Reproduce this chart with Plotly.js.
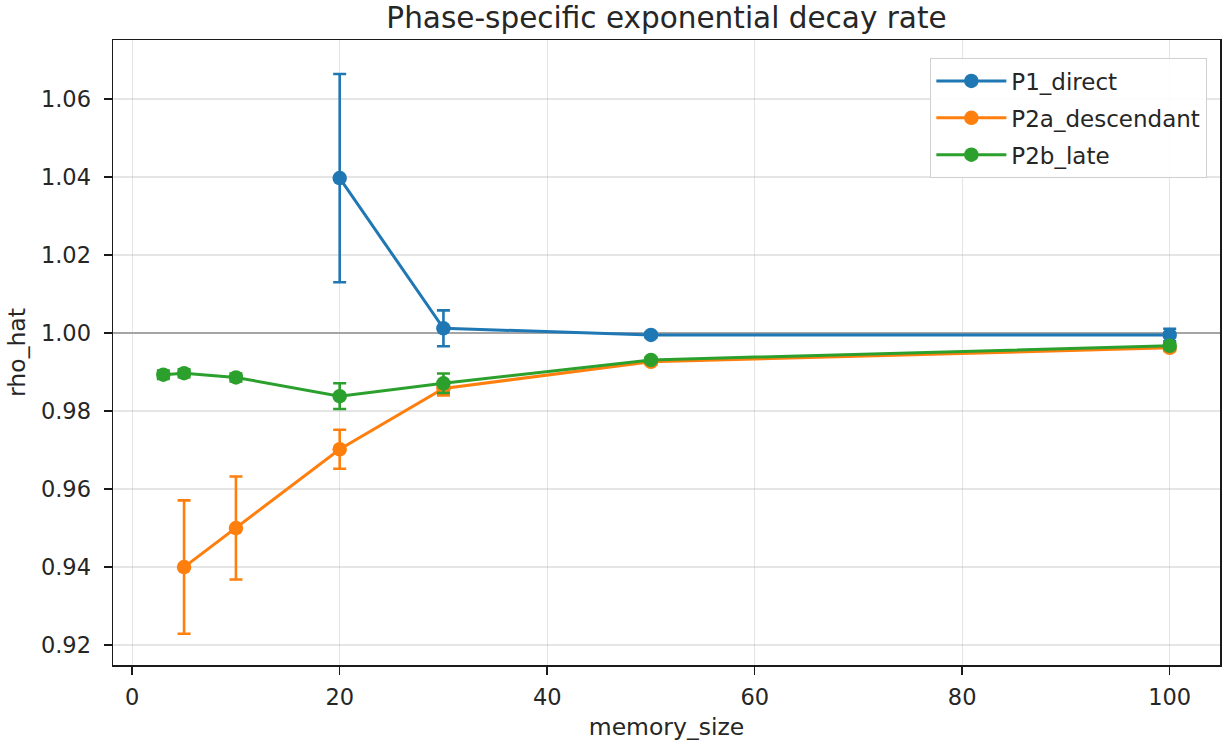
<!DOCTYPE html>
<html>
<head>
<meta charset="utf-8">
<script src="https://cdn.plot.ly/plotly-3.0.1.min.js"></script>
<style>html,body{margin:0;padding:0;background:#fff;}#chart{width:1225px;height:746px;}</style>
</head>
<body>
<div id="chart"></div>
<script>
// Data
const p1_x = [20, 30, 50, 100];
const p1_y = [1.0397, 1.0012, 0.9995, 0.9995];
const p1_err = [0.0267, 0.0046, 0.0006, 0.0016];

const p2a_x = [5, 10, 20, 30, 50, 100];
const p2a_y = [0.9400, 0.9500, 0.9702, 0.9858, 0.9926, 0.9962];
const p2a_err = [0.0171, 0.0132, 0.0050, 0.0018, 0.0006, 0.0008];

const p2b_x = [3, 5, 10, 20, 30, 50, 100];
const p2b_y = [0.9893, 0.9897, 0.9886, 0.9838, 0.9871, 0.9931, 0.9967];
const p2b_err = [0.0011, 0.0010, 0.0010, 0.0033, 0.0025, 0.0006, 0.0008];

const names = ["P1_direct", "P2a_descendant", "P2b_late"];
const colors = ["#1f77b4", "#ff7f0e", "#2ca02c"];

function mk(x, y, e, i) {
  return {
    x: x, y: y, name: names[i], type: "scatter", mode: "lines+markers",
    legendgroup: "g" + i,
    line: {color: colors[i], width: 3},
    marker: {color: colors[i], size: 14.5},
    error_y: {type: "data", array: e, visible: true, color: colors[i], thickness: 2.6, width: 6.5}
  };
}

const data = [
  mk(p1_x, p1_y, p1_err, 0),
  mk(p2a_x, p2a_y, p2a_err, 1),
  mk(p2b_x, p2b_y, p2b_err, 2)
];

const font = "DejaVu Sans, sans-serif";
const txt = "#262626";
const layout = {
  width: 1225, height: 746,
  margin: {l: 113, r: 5, t: 40, b: 81},
  paper_bgcolor: "#fff", plot_bgcolor: "#fff",
  font: {family: font, size: 22.5, color: txt},
  title: {text: "Phase-specific exponential decay rate", x: 0.5441, xanchor: "center", y: 0.976, yanchor: "middle", font: {family: font, size: 29.5, color: txt}},
  xaxis: {
    range: [-1.85, 104.85], tickvals: [0, 20, 40, 60, 80, 100],
    showgrid: true, gridcolor: "rgba(176,176,176,0.33)", gridwidth: 1.2,
    zeroline: false, showline: true, linecolor: "#1a1a1a", linewidth: 1.5, mirror: true,
    ticks: "outside", ticklen: 8, tickwidth: 1.5, tickcolor: "#1a1a1a",
    ticklabelstandoff: 3,
    tickfont: {family: font, size: 22.5, color: txt},
    title: {text: "memory_size", font: {family: font, size: 23.5, color: txt}, standoff: 10}
  },
  yaxis: {
    range: [0.9149, 1.0751], tickvals: [0.92, 0.94, 0.96, 0.98, 1.00, 1.02, 1.04, 1.06],
    tickformat: ".2f",
    showgrid: true, gridcolor: "rgba(176,176,176,0.33)", gridwidth: 1.2,
    zeroline: false, showline: true, linecolor: "#1a1a1a", linewidth: 1.5, mirror: true,
    ticks: "outside", ticklen: 8, tickwidth: 1.5, tickcolor: "#1a1a1a",
    ticklabelstandoff: 8,
    tickfont: {family: font, size: 22.5, color: txt},
    title: {text: "rho_hat", font: {family: font, size: 23.5, color: txt}, standoff: 8}
  },
  shapes: [{type: "line", xref: "paper", x0: 0, x1: 1, yref: "y", y0: 1.0, y1: 1.0,
            line: {color: "#808080", width: 1.3}, layer: "below"}],
  legend: {
    x: 0.9883, xanchor: "right", y: 0.971, yanchor: "top",
    bgcolor: "rgba(255,255,255,0.9)", bordercolor: "#d0d0d0", borderwidth: 1.3,
    font: {family: font, size: 23, color: txt}, tracegroupgap: 4, traceorder: "grouped",
    itemwidth: 70
  },
  showlegend: true
};

Plotly.newPlot("chart", data, layout, {displayModeBar: false, staticPlot: true});
</script>
</body>
</html>
